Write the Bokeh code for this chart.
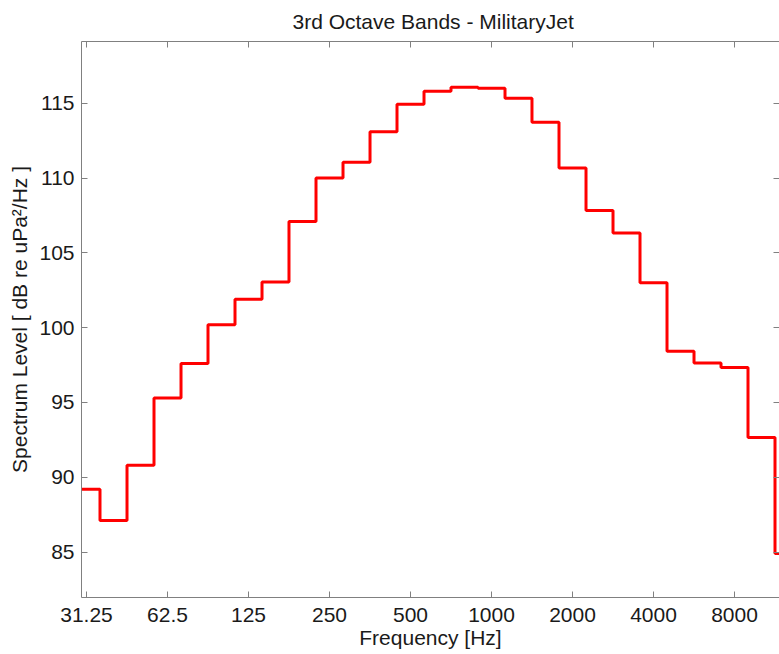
from bokeh.plotting import figure
from bokeh.models import LogAxis, LinearAxis, FixedTicker, CustomJSTickFormatter, Range1d, ColumnDataSource
from bokeh.embed import file_html
from bokeh.resources import INLINE

# Third-octave band centre frequencies [Hz]
band_centers = [31.25, 39.37, 49.61, 62.5, 78.75, 99.21, 125.0, 157.5, 198.4, 250.0,
                315.0, 396.9, 500.0, 630.0, 793.7, 1000.0, 1260.0, 1587.0, 2000.0,
                2520.0, 3175.0, 4000.0, 5040.0, 6350.0, 8000.0, 10079.0, 12699.0]
# Spectrum level per band [dB re uPa^2/Hz]
spectrum_level = [89.2, 87.1, 90.8, 95.3, 97.6, 100.2, 101.9, 103.05, 107.1, 110.0,
                  111.05, 113.1, 114.93, 115.8, 116.07, 116.0, 115.33, 113.73, 110.67,
                  107.84, 106.33, 103.0, 98.42, 97.64, 97.33, 92.66, 84.9]
x_ticks = [31.25, 62.5, 125, 250, 500, 1000, 2000, 4000, 8000]
y_ticks = [85, 90, 95, 100, 105, 110, 115]
x_limits = (29.94, 11757.0)
y_limits = (81.96, 119.13)

title_text = "3rd Octave Bands - MilitaryJet"
x_label = "Frequency [Hz]"
y_label = "Spectrum Level [ dB re uPa\u00b2/Hz ]"

# band edges (lower edge of each band, plus the upper edge of the last one)
edges = [c * 2 ** (-1 / 6) for c in band_centers] + [band_centers[-1] * 2 ** (1 / 6)]
levels = spectrum_level + [spectrum_level[-1]]
src = ColumnDataSource(dict(x=edges, y=levels))

FONT = "Liberation Sans"
AX = "#808080"
TXT = "#1a1a1a"

p = figure(width=779, height=654, x_axis_type="log",
           x_range=Range1d(*x_limits), y_range=Range1d(*y_limits),
           output_backend="svg", toolbar_location=None,
           min_border_left=81, min_border_right=0, min_border_top=41, min_border_bottom=57,
           title=title_text)
p.title.text_font = FONT
p.title.text_font_size = "21px"
p.title.text_font_style = "normal"
p.title.text_color = TXT
p.title.align = "left"
p.title.offset = 211
p.title.standoff = 14
p.title.vertical_align = "top"

p.outline_line_color = None
p.xgrid.visible = False
p.ygrid.visible = False
p.background_fill_color = "white"
p.border_fill_color = "white"

p.step(x="x", y="y", source=src, mode="after", line_color="#ff0000", line_width=3)

fmt = CustomJSTickFormatter(code="return String(tick);")
blank = CustomJSTickFormatter(code="return '';")

xa = p.xaxis[0]
xa.ticker = FixedTicker(ticks=x_ticks)
xa.formatter = fmt
xa.axis_label = x_label
ya = p.yaxis[0]
ya.ticker = FixedTicker(ticks=y_ticks)
ya.axis_label = y_label

for ax in (xa, ya):
    ax.axis_line_color = AX
    ax.major_tick_line_color = AX
    ax.minor_tick_line_color = None
    ax.major_tick_in = 6
    ax.major_tick_out = 0
    ax.major_label_text_font = FONT
    ax.major_label_text_font_size = "21px"
    ax.major_label_text_color = TXT
    ax.axis_label_text_font = FONT
    ax.axis_label_text_font_size = "21px"
    ax.axis_label_text_font_style = "normal"
    ax.axis_label_text_color = TXT

xa.major_label_standoff = 10
xa.axis_label_standoff = 1
ya.major_label_standoff = 7
ya.axis_label_standoff = 5

top = LogAxis(ticker=FixedTicker(ticks=x_ticks), formatter=blank, axis_line_color=AX,
              major_tick_line_color=AX, minor_tick_line_color=None,
              major_tick_in=6, major_tick_out=0, major_label_standoff=0)
p.add_layout(top, "above")
right = LinearAxis(ticker=FixedTicker(ticks=y_ticks), formatter=blank, axis_line_color=None,
                   major_tick_line_color=AX, minor_tick_line_color=None,
                   major_tick_in=6, major_tick_out=0, major_label_standoff=0)
p.add_layout(right, "right")

open("out.html", "w").write(file_html(p, INLINE))
